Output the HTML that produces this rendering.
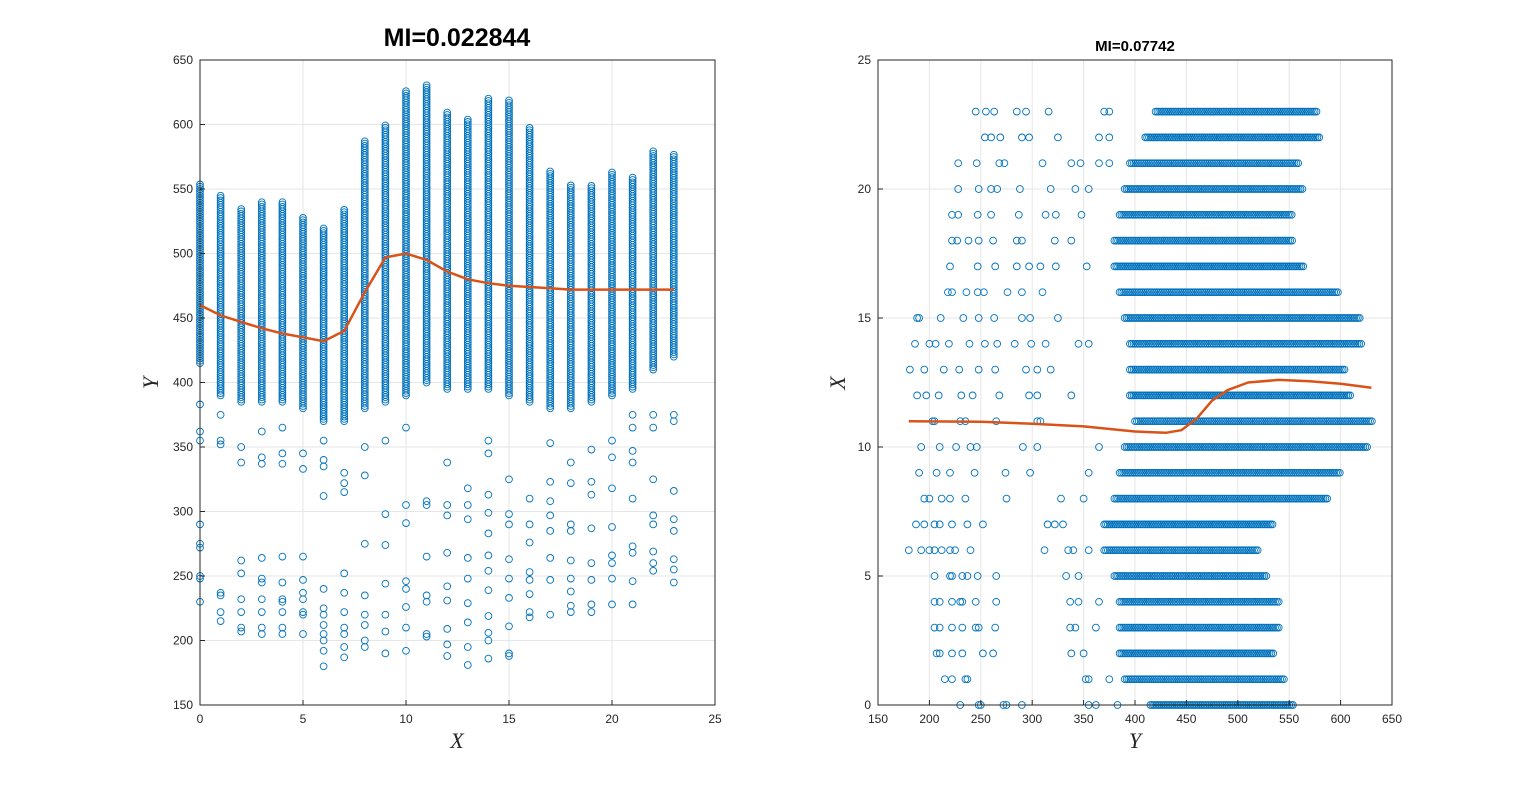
<!DOCTYPE html>
<html><head><meta charset="utf-8">
<style>
html,body{margin:0;padding:0;background:#fff;}
svg{display:block;font-family:"Liberation Sans",sans-serif;}
</style></head>
<body>
<svg id="fig" width="1539" height="792" viewBox="0 0 1539 792">
<rect width="1539" height="792" fill="#fff"/>
<g id="left"></g>
<g id="right"></g>
<text x="457" y="46" text-anchor="middle" font-size="25" font-weight="bold" fill="#000">MI=0.022844</text>
<text x="1135" y="51" text-anchor="middle" font-size="15" font-weight="bold" fill="#000">MI=0.07742</text>
<text x="457" y="748" text-anchor="middle" font-size="22" font-style="italic" font-family="Liberation Serif,serif" fill="#262626">X</text>
<text x="158" y="383" text-anchor="middle" font-size="22" font-style="italic" font-family="Liberation Serif,serif" fill="#262626" transform="rotate(-90 158 383)">Y</text>
<text x="1135" y="748" text-anchor="middle" font-size="22" font-style="italic" font-family="Liberation Serif,serif" fill="#262626">Y</text>
<text x="845" y="383" text-anchor="middle" font-size="22" font-style="italic" font-family="Liberation Serif,serif" fill="#262626" transform="rotate(-90 845 383)">X</text>
</svg>
<script>
const hours = [0,1,2,3,4,5,6,7,8,9,10,11,12,13,14,15,16,17,18,19,20,21,22,23];
const bandHigh = [555,545,535,540,540,528,520,535,588,600,627,632,610,605,620,620,598,565,553,553,563,560,580,578];
const bandLow  = [415,390,385,385,385,380,370,370,380,385,390,400,395,395,395,390,385,380,380,385,390,395,410,420];
const outliers = [
[383,362,355,290,275,272,250,248,230],
[375,355,352,237,235,222,215],
[350,338,262,252,232,222,210,207],
[362,342,337,264,248,245,232,222,210,205],
[365,345,337,265,245,232,230,222,210,205],
[345,333,265,247,237,232,222,220,205],
[355,340,335,312,240,225,220,212,205,200,192,180],
[330,322,315,252,237,222,210,205,195,187],
[350,328,275,235,220,212,200,195],
[355,298,274,244,220,207,190],
[365,305,291,246,240,226,210,192],
[308,305,265,235,230,205,203],
[338,305,297,268,242,231,209,197,188],
[318,305,294,264,248,229,214,195,181],
[355,345,313,299,283,266,254,239,219,206,200,186],
[325,298,290,263,248,233,211,190,188],
[310,290,276,253,247,236,222,218],
[353,323,308,297,285,264,247,220],
[338,322,290,285,262,248,238,227,222],
[348,323,313,287,260,247,228,222],
[355,342,318,288,266,260,248,228],
[375,365,347,338,310,273,268,246,228],
[375,365,325,297,290,269,260,254],
[375,370,316,294,285,263,255,245]
];
const leftFit = [460,452,447,442,438,435,432,440,470,497,500,495,486,480,477,475,474,473,472,472,472,472,472,472];
const rightFitY = [180,250,300,350,400,430,445,460,475,490,510,540,570,600,630];
const rightFitX = [11.0,10.98,10.9,10.8,10.6,10.55,10.65,11.1,11.8,12.2,12.5,12.6,12.55,12.45,12.3];
const leftXTicks = [0,5,10,15,20,25];
const leftYTicks = [150,200,250,300,350,400,450,500,550,600,650];
const rightXTicks = [150,200,250,300,350,400,450,500,550,600,650];
const rightYTicks = [0,5,10,15,20,25];

const NS="http://www.w3.org/2000/svg";
function mk(tag,attrs,parent){const e=document.createElementNS(NS,tag);for(const k in attrs)e.setAttribute(k,attrs[k]);parent.appendChild(e);return e;}

function drawAxes(g,X0,X1,Y0,Y1,xs,ys,xT,yT,prefix){
  xT.forEach(t=>{const l=mk('line',{x1:xs(t),x2:xs(t),y1:Y0,y2:Y1,stroke:'#e6e6e6','stroke-width':1},g);
    });
  yT.forEach(t=>{const l=mk('line',{x1:X0,x2:X1,y1:ys(t),y2:ys(t),stroke:'#e6e6e6','stroke-width':1},g);
    });
}
function drawFrame(g,X0,X1,Y0,Y1,xs,ys,xT,yT,prefix){
  const r=mk('rect',{x:X0,y:Y0,width:X1-X0,height:Y1-Y0,fill:'none',stroke:'#262626','stroke-width':1},g);
  
  xT.forEach(t=>{mk('line',{x1:xs(t),x2:xs(t),y1:Y1,y2:Y1-5,stroke:'#262626'},g);
    const tx=mk('text',{x:xs(t),y:Y1+18,'text-anchor':'middle','font-size':12,fill:'#262626'},g);tx.textContent=t;
    });
  yT.forEach(t=>{mk('line',{x1:X0,x2:X0+5,y1:ys(t),y2:ys(t),stroke:'#262626'},g);
    const tx=mk('text',{x:X0-7,y:ys(t)+4,'text-anchor':'end','font-size':12,fill:'#262626'},g);tx.textContent=t;
    });
}
function circ(g,x,y,prefix){
  const c=mk('circle',{cx:x.toFixed(1),cy:y.toFixed(1),r:3.4,fill:'none',stroke:'#0072BD','stroke-width':0.9},g);
  
  
}

// LEFT
const L=document.getElementById('left');
const lx=x=>200+x*(515/25), ly=v=>705-(v-150)*(645/500);
drawAxes(L,200,715,60,705,lx,ly,leftXTicks,leftYTicks,'left');
const Lp=mk('g',{},L);
hours.forEach((h,i)=>{
  for(let v=bandLow[i];v<=bandHigh[i];v+=1.8) circ(Lp,lx(h),ly(v),'left');
  outliers[i].forEach(v=>circ(Lp,lx(h),ly(v),'left'));
});
let d='';hours.forEach((h,i)=>{d+=(i?'L':'M')+lx(h).toFixed(1)+','+ly(leftFit[i]).toFixed(1);});
const lf=mk('path',{d:d,fill:'none',stroke:'#D95319','stroke-width':2.5},L);

drawFrame(L,200,715,60,705,lx,ly,leftXTicks,leftYTicks,'left');

// RIGHT
const R=document.getElementById('right');
const rx=v=>878+(v-150)*(514/500), ry=h=>705-h*(645/25);
drawAxes(R,878,1392,60,705,rx,ry,rightXTicks,rightYTicks,'right');
const Rp=mk('g',{},R);
hours.forEach((h,i)=>{
  for(let v=bandLow[i];v<=bandHigh[i];v+=1.8) circ(Rp,rx(v),ry(h),'right');
  outliers[i].forEach(v=>circ(Rp,rx(v),ry(h),'right'));
});
let d2='';rightFitY.forEach((v,i)=>{d2+=(i?'L':'M')+rx(v).toFixed(1)+','+ry(rightFitX[i]).toFixed(1);});
const rf=mk('path',{d:d2,fill:'none',stroke:'#D95319','stroke-width':2.5,'stroke-linejoin':'round'},R);

drawFrame(R,878,1392,60,705,rx,ry,rightXTicks,rightYTicks,'right');
</script>
</body></html>
